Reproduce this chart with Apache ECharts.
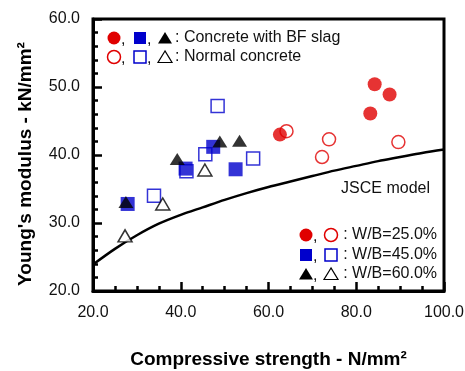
<!DOCTYPE html>
<html>
<head>
<meta charset="utf-8">
<script src="https://cdn.jsdelivr.net/npm/echarts@6/dist/echarts.min.js"></script>
<style>
  html, body { margin: 0; padding: 0; background: #fff; }
  #chart { width: 465px; height: 371px; }
</style>
</head>
<body>
<div id="chart"></div>
<script>
// [compressive strength, Young's modulus]
const bf25 = [[62.6, 43.0], [83.2, 46.1], [84.2, 50.4], [87.6, 48.9]];
const nc25 = [[64.1, 43.5], [73.8, 42.3], [72.2, 39.7], [89.6, 41.9]];
const bf45 = [[27.9, 32.8], [41.1, 38.0], [47.4, 41.2], [52.5, 37.9]];
const nc45 = [[33.9, 34.0], [41.3, 37.6], [45.6, 40.1], [48.4, 47.2], [56.5, 39.5]];
const bf60 = [[27.5, 33.1], [39.2, 39.4], [48.9, 42.0], [53.4, 42.1]];
const nc60 = [[27.3, 28.1], [35.9, 32.8], [45.5, 37.8]];

// JSCE model curve
const jsceX = [20, 25, 30, 35, 40, 45, 50, 55, 60, 65, 70, 75, 80, 85, 90, 95, 100];
const jsceY = [23.9, 26.2, 28.2, 29.9, 31.2, 32.3, 33.4, 34.4, 35.3, 36.1, 36.9, 37.7, 38.4, 39.1, 39.7, 40.3, 40.8];

const RED = '#e00000';
const BLUE = '#0000cc';
const FONT = 'Liberation Sans, Arial, sans-serif';

const myChart = echarts.init(document.getElementById('chart'));

function scatter(name, data, symbol, size, filled, color) {
    return {
        name: name,
        type: 'scatter',
        data: data,
        symbol: symbol,
        symbolSize: size,
        z: filled ? 4 : 3,
        itemStyle: filled
            ? { color: color, borderWidth: 0 }
            : { color: '#fff', borderColor: color, borderWidth: 1.5 }
    };
}

// legend glyphs drawn as small shapes
function glyph(kind, filled, color, cx, cy) {
    const style = filled ? { fill: color } : { fill: '#fff', stroke: color, lineWidth: 1.5 };
    if (kind === 'circle') return { type: 'circle', shape: { cx: cx, cy: cy, r: 6.5 }, style: style };
    if (kind === 'rect') return { type: 'rect', shape: { x: cx - 6, y: cy - 6, width: 12, height: 12 }, style: style };
    return { type: 'polygon', shape: { points: [[cx, cy - 6], [cx - 7, cy + 5.5], [cx + 7, cy + 5.5]] }, style: filled ? style : { fill: '#fff', stroke: color, lineWidth: 1.2 } };
}

function txt(x, y, text, align) {
    return {
        type: 'text', x: x, y: y,
        style: { text: text, font: '16px ' + FONT, fill: '#111', align: align || 'left', verticalAlign: 'middle' }
    };
}

const graphics = [
    glyph('circle', true, RED, 114, 38), txt(121, 40, ','),
    glyph('rect', true, BLUE, 140, 38), txt(147, 40, ','),
    glyph('tri', true, '#000', 165, 38), txt(175, 38, ': Concrete with BF slag'),
    glyph('circle', false, RED, 114, 57), txt(121, 59, ','),
    glyph('rect', false, BLUE, 140, 57), txt(147, 59, ','),
    glyph('tri', false, '#000', 165, 57), txt(175, 57, ': Normal concrete'),

    txt(430, 189, 'JSCE model', 'right'),

    glyph('circle', true, RED, 306, 235), txt(313, 237, ','),
    glyph('circle', false, RED, 331, 235), txt(437, 235, ': W/B=25.0%', 'right'),
    glyph('rect', true, BLUE, 306, 255), txt(313, 257, ','),
    glyph('rect', false, BLUE, 331, 255), txt(437, 255, ': W/B=45.0%', 'right'),
    glyph('tri', true, '#000', 306, 274), txt(313, 276, ','),
    glyph('tri', false, '#000', 331, 274), txt(437, 274, ': W/B=60.0%', 'right'),

    // y axis title, sits a little below the axis middle in the original
    {
        type: 'text', x: 26, y: 164, rotation: Math.PI / 2,
        style: { text: "Young's modulus - kN/mm²", font: 'bold 19px ' + FONT, fill: '#000', align: 'center', verticalAlign: 'middle' }
    }
];

const option = {
    animation: false,
    backgroundColor: '#fff',
    grid: {
        left: 93, right: 21, top: 19, bottom: 80,
        outerBoundsMode: 'none', containLabel: false,
        show: true, borderColor: '#000', borderWidth: 3
    },
    xAxis: {
        type: 'value', min: 20, max: 100, interval: 20,
        name: 'Compressive strength - N/mm²',
        nameLocation: 'middle', nameGap: 59,
        nameTextStyle: { fontFamily: FONT, fontSize: 19, fontWeight: 'bold', color: '#000' },
        axisLine: { lineStyle: { color: '#000', width: 3 } },
        axisTick: { inside: true, length: 9, lineStyle: { color: '#000', width: 2.5 } },
        minorTick: { show: true, splitNumber: 4, length: 5, lineStyle: { color: '#000', width: 2.5 } },
        splitLine: { show: false },
        axisLabel: { margin: 14, fontFamily: FONT, fontSize: 16, color: '#111', formatter: v => v.toFixed(1) }
    },
    yAxis: {
        type: 'value', min: 20, max: 60, interval: 10,
        axisLine: { lineStyle: { color: '#000', width: 3 } },
        axisTick: { inside: true, length: 9, lineStyle: { color: '#000', width: 2.5 } },
        minorTick: { show: true, splitNumber: 5, length: 5, lineStyle: { color: '#000', width: 2.5 } },
        splitLine: { show: false },
        axisLabel: { margin: 13, fontFamily: FONT, fontSize: 16, color: '#111', formatter: v => v.toFixed(1) }
    },
    series: [
        {
            name: 'JSCE model',
            type: 'line',
            data: jsceX.map((x, i) => [x, jsceY[i]]),
            smooth: 0.3,
            symbol: 'none',
            z: 2,
            lineStyle: { color: '#000', width: 2.5 }
        },
        scatter('NC 25', nc25, 'circle', 13, false, RED),
        scatter('NC 45', nc45, 'rect', 13, false, BLUE),
        scatter('NC 60', nc60, 'triangle', [14, 12], false, '#000'),
        scatter('BF 25', bf25, 'circle', 14, true, RED),
        scatter('BF 45', bf45, 'rect', 14, true, BLUE),
        scatter('BF 60', bf60, 'triangle', [15, 12], true, '#000')
    ],
    graphic: graphics
};
myChart.setOption(option);
</script>
</body>
</html>
